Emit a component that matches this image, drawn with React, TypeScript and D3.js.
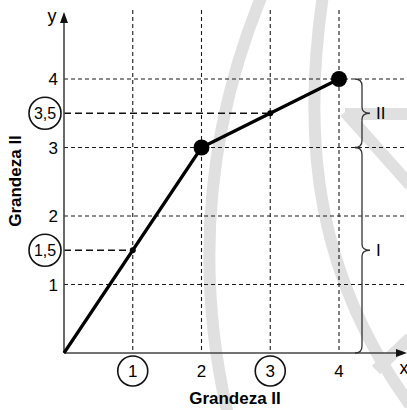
import * as d3 from 'd3';

// values
const xValues = [0, 1, 2, 3, 4];
const yValues = [0, 1.5, 3, 3.5, 4];
const bigMarkers = [2, 4];
const smallMarkers = [1, 3];
const xTickLabels = ['1', '2', '3', '4'];
const xTicks = [1, 2, 3, 4];
const xCircled = [1, 3];
const yTicks = [1, 2, 3, 4];
const yTickLabels = ['1', '2', '3', '4'];
const yCircled = [1.5, 3.5];
const yCircledLabels = ['1,5', '3,5'];
const braces = [
  { from: 3, to: 4, label: 'II' },
  { from: 0, to: 3, label: 'I' },
];
const axisTitle = 'Grandeza II';

const W = 407;
const H = 410;
const FONT = "'Liberation Sans', Arial, sans-serif";

function bracePath(x: number, y1: number, y2: number) {
  const m = (y1 + y2) / 2;
  return `M ${x - 7},${y1} Q ${x},${y1} ${x},${y1 + 7} L ${x},${m - 6} Q ${x},${m} ${x + 8},${m} Q ${x},${m} ${x},${m + 6} L ${x},${y2 - 7} Q ${x},${y2} ${x - 7},${y2}`;
}

export default function App() {
  const x = d3.scaleLinear().domain([0, 4]).range([64, 339]);
  const y = d3.scaleLinear().domain([0, 4]).range([353, 79]);

  const pts = xValues.map((v, i) => [v, yValues[i]] as [number, number]);
  const line = d3
    .line<[number, number]>()
    .x((d) => x(d[0]))
    .y((d) => y(d[1]));

  const valueAt = (v: number) => yValues[xValues.indexOf(v)];

  return (
    <svg
      width={W}
      height={H}
      style={{ position: 'absolute', left: 0, top: 0, background: '#fff' }}
      fontFamily={FONT}
    >
      {/* watermark */}
      <g fill="none" stroke="#e0e0e0" strokeWidth={12}>
        <path d="M 262,-5 Q 178,200 228,415" />
        <path d="M 323,-5 C 300,150 320,280 410,405" />
        <path d="M 345,114 L 410,114" />
        <path d="M 345,112 L 410,185" />
        <path d="M 376,370 L 410,338" />
      </g>

      {/* grid */}
      <g stroke="#1a1a1a" strokeWidth={1.1} strokeDasharray="4,3">
        {xTicks.map((t) => (
          <line key={'v' + t} x1={x(t)} x2={x(t)} y1={10} y2={y(0)} />
        ))}
        {yTicks.map((t) => (
          <line key={'h' + t} x1={x(0)} x2={W} y1={y(t)} y2={y(t)} />
        ))}
      </g>
      <g stroke="#111" strokeWidth={1.5} strokeDasharray="7,4">
        {yCircled.map((t) => {
          const xv = xValues[yValues.indexOf(t)];
          return <line key={'p' + t} x1={x(0)} x2={x(xv)} y1={y(t)} y2={y(t)} />;
        })}
      </g>

      {/* axes */}
      <g stroke="#444" strokeWidth={1.6}>
        <line x1={x(0)} x2={x(0)} y1={y(0)} y2={22} />
        <line x1={x(0)} x2={398} y1={y(0)} y2={y(0)} />
      </g>
      <path d={`M ${x(0)},12 L ${x(0) - 4},23 L ${x(0) + 4},23 Z`} fill="#111" />
      <path d={`M 407,${y(0)} L 396,${y(0) - 4} L 396,${y(0) + 4} Z`} fill="#111" />
      <text x={52} y={22} fontSize={18} textAnchor="middle">
        y
      </text>
      <text x={404} y={374} fontSize={18} textAnchor="middle">
        x
      </text>

      {/* y tick labels */}
      {yTicks.map((t, i) => (
        <text key={'yl' + t} x={58} y={y(t)} dy="0.36em" fontSize={17} textAnchor="end">
          {yTickLabels[i]}
        </text>
      ))}
      {yCircled.map((t, i) => (
        <g key={'yc' + t}>
          <circle cx={45} cy={y(t)} r={16} fill="#fff" stroke="#111" strokeWidth={1.6} />
          <text x={45} y={y(t)} dy="0.36em" fontSize={16} textAnchor="middle">
            {yCircledLabels[i]}
          </text>
        </g>
      ))}

      {/* x tick labels */}
      {xTicks.map((t, i) => (
        <g key={'xl' + t}>
          {xCircled.includes(t) && (
            <circle cx={x(t)} cy={371} r={15} fill="#fff" stroke="#111" strokeWidth={1.6} />
          )}
          <text x={x(t)} y={371} dy="0.36em" fontSize={17} textAnchor="middle">
            {xTickLabels[i]}
          </text>
        </g>
      ))}

      {/* titles */}
      <text x={235} y={404} fontSize={17} fontWeight="bold" textAnchor="middle">
        {axisTitle}
      </text>
      <text
        transform={`translate(21,181) rotate(-90)`}
        fontSize={17}
        fontWeight="bold"
        textAnchor="middle"
      >
        {axisTitle}
      </text>

      {/* braces */}
      {braces.map((b) => (
        <g key={b.label}>
          <path d={bracePath(362, y(b.to), y(b.from))} fill="none" stroke="#333" strokeWidth={1.3} />
          <text x={376} y={(y(b.to) + y(b.from)) / 2} dy="0.36em" fontSize={17}>
            {b.label}
          </text>
        </g>
      ))}

      {/* data */}
      <path d={line(pts) ?? ''} fill="none" stroke="#000" strokeWidth={3.2} strokeLinejoin="round" />
      {bigMarkers.map((v) => (
        <circle key={'b' + v} cx={x(v)} cy={y(valueAt(v))} r={8} fill="#000" />
      ))}
      {smallMarkers.map((v) => (
        <circle key={'s' + v} cx={x(v)} cy={y(valueAt(v))} r={3} fill="#000" />
      ))}
    </svg>
  );
}
